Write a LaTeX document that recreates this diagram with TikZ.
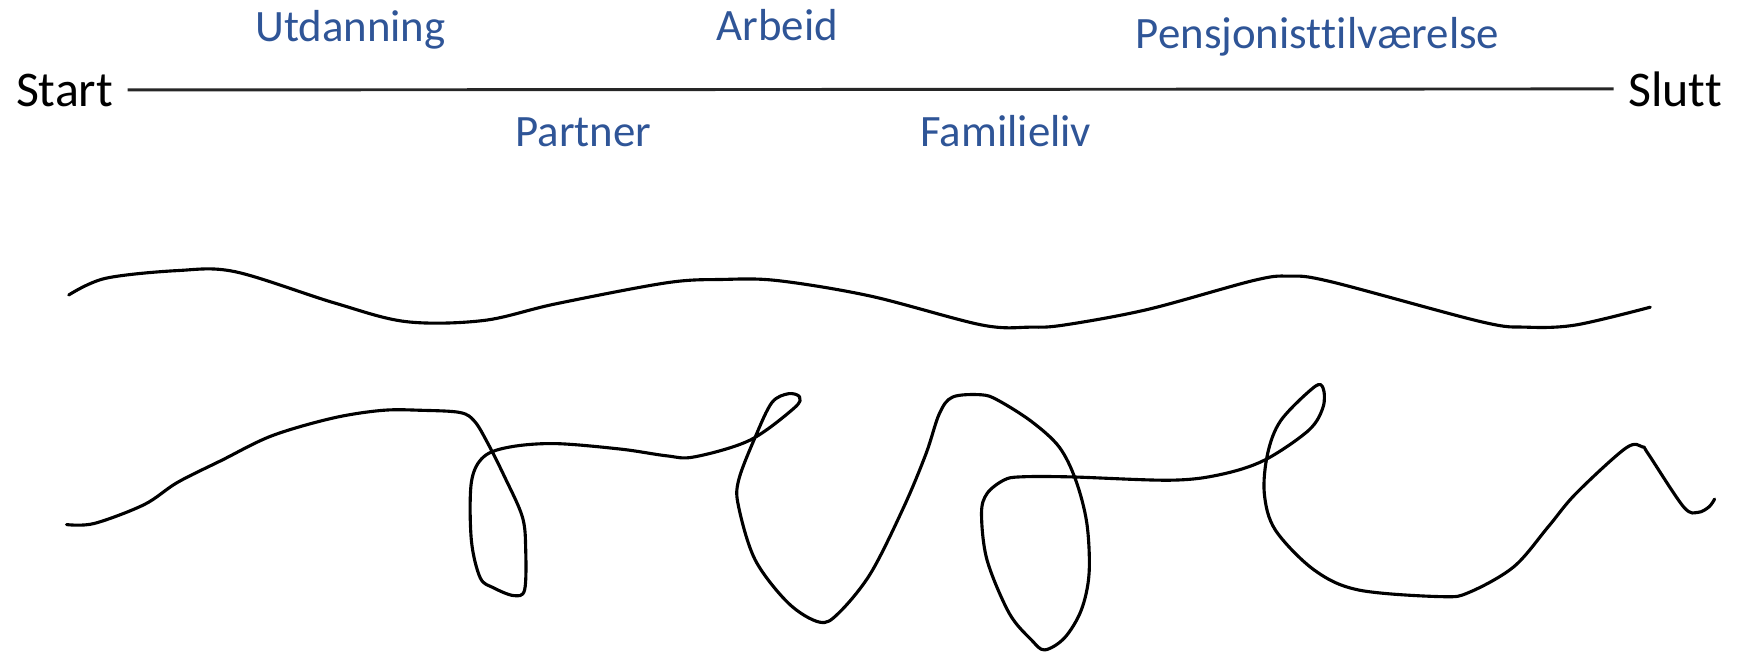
\documentclass[tikz,border=0pt]{standalone}
\usepackage{fontspec}
\setmainfont{Carlito}[Ligatures={NoCommon,NoRare,NoContextual}, Contextuals=NoAlternate]
\usepackage{tikz}
\definecolor{phase-blue}{RGB}{47,85,151}

\begin{document}
\begin{tikzpicture}[x=0.01cm, y=-0.01cm,
    endpoint/.style={font=\fontsize{12.8}{14}\selectfont, inner xsep=3.5pt, inner ysep=0pt},
    phase/.style={font=\fontsize{11.5}{13}\selectfont, text=phase-blue, anchor=base},
    path/.style={line width=0.8pt, line join=round, line cap=round}]
  \useasboundingbox (0,0) rectangle (1568,589);

  % Tidslinje
  \node[endpoint, anchor=base east] (start) at (115,95.6) {Start};
  \node[endpoint, anchor=base west] (slutt) at (1455,95.6) {Slut\kern0pt t};
  \draw[line width=0.75pt, black!85] (start) -- (slutt);

  % Faser over linja
  \node[phase] (utdanning) at (316,37.5) {Utdanning};
  \node[phase] (arbeid) at (701,36.7) {Arbeid};
  \node[phase] (pensjon) at (1188,44) {Pensjonist\kern0pt tilværelse};
  % Faser under linja
  \node[phase] (partner) at (526,131.7) {Partner};
  \node[phase] (familie) at (907,131.7) {Familieliv};

  % Jevn livsbane
  \draw[path] plot[smooth, tension=0.55] coordinates {
    (62,266) (95,251) (160,244) (212,245) (301,273) (366,290)
    (436,289) (501,274) (601,255) (651,252) (701,253) (785,267) (885,293)
    (929,295) (960,293) (1035,279) (1130,253) (1162,249) (1200,254)
    (1335,290) (1376,295) (1421,293) (1488,277)};

  % Kronglete livsbane
  \draw[path] plot[smooth, tension=0.55] coordinates {
    (60,473) (85,472) (130,455) (160,435) (200,415) (245,393) (300,377)
    (345,370) (381,370) (415,372) (428,380) (440,400) (455,430) (471,466)
    (474,495) (473,532) (463,537) (445,530) (433,521) (425,487) (425,435)
    (436,412) (460,403) (501,400) (560,405) (601,411) (626,412) (676,397)
    (716,368) (721,358) (711,355) (696,363) (681,394) (666,433) (666,457)
    (681,505) (711,544) (739,561) (756,553) (785,517) (815,457) (835,409)
    (847,373) (859,358) (885,356) (900,361) (930,380) (955,403) (970,433)
    (980,472) (982,517) (975,550) (960,575) (942,586) (930,577) (910,553)
    (890,505) (885,463) (890,445) (905,433) (920,430) (965,430) (1055,433)
    (1100,428) (1140,415) (1180,388) (1193,367) (1193,350) (1185,349)
    (1155,379) (1143,409) (1140,445) (1150,478) (1185,514) (1225,532)
    (1300,538) (1325,534) (1365,511) (1396,475) (1421,445) (1466,404)
    (1481,403) (1486,409) (1518,457) (1531,462) (1541,457) (1546,450)};
\end{tikzpicture}
\end{document}
